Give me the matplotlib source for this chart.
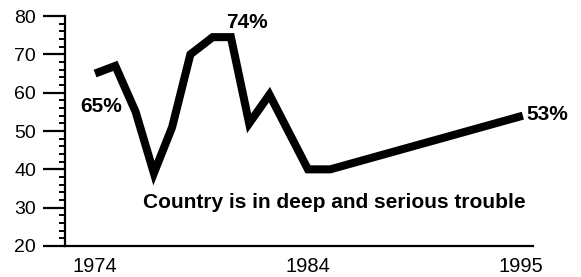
import matplotlib
matplotlib.use("Agg")
import matplotlib.pyplot as plt
from matplotlib.ticker import MultipleLocator

plt.rcParams['font.family'] = ['Liberation Sans', 'DejaVu Sans']

# poll dates (fractional years) and share saying "deep and serious trouble"
years = [1974.0, 1975.0, 1976.0, 1976.9, 1977.8, 1978.7, 1979.8,
         1980.7, 1981.6, 1982.6, 1984.5, 1985.6, 1995.1]
pct = [65, 67, 55, 39, 51, 70, 74.5, 74.5, 52, 59.5, 40, 40, 54]

year_labels = ['1974', '1984', '1995']
year_ticks = [1974, 1984.5, 1995]

fig = plt.figure(figsize=(5.81, 2.77), dpi=100)
ax = fig.add_axes([0.112, 0.112, 0.805, 0.830])

ax.plot(years, pct, color='black', lw=5.8, solid_joinstyle='miter',
        solid_capstyle='butt')

ax.set_xlim(1972.52, 1995.59)
ax.set_ylim(20, 80)

for s in ['top', 'right']:
    ax.spines[s].set_visible(False)
ax.spines['left'].set_linewidth(1.6)
ax.spines['bottom'].set_linewidth(1.6)

ax.yaxis.set_major_locator(MultipleLocator(10))
ax.yaxis.set_minor_locator(MultipleLocator(2))
ax.tick_params(axis='y', which='major', direction='out', length=16, width=1.6,
               labelsize=14, pad=5)
ax.tick_params(axis='y', which='minor', direction='out', length=4, width=1.4)
ax.set_xticks(year_ticks)
ax.set_xticklabels(year_labels)
ax.tick_params(axis='x', length=0, labelsize=14.5, pad=8)

# annotations
ax.text(1974.3, 56.3, f"{pct[0]:.0f}%", fontsize=15, fontweight='bold',
        ha='center', va='center')
ax.text(1981.5, 78.2, "74%", fontsize=15, fontweight='bold',
        ha='center', va='center')
ax.text(1995.3, 54.2, "53%", fontsize=15, fontweight='bold',
        ha='left', va='center')
ax.text(1985.8, 31.4, "Country is in deep and serious trouble", fontsize=15,
        fontweight='bold', ha='center', va='center')

fig.savefig("out.png", dpi=100)
